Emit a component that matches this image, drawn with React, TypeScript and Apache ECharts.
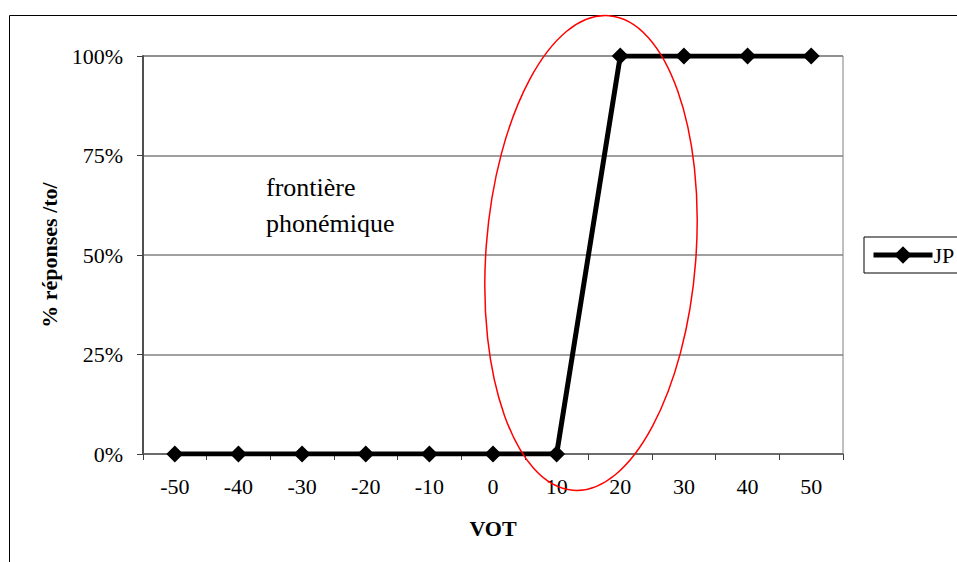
import React, { useEffect, useRef } from "react";
import * as echarts from "echarts";

const categories = ["-50", "-40", "-30", "-20", "-10", "0", "10", "20", "30", "40", "50"];
const jpValues = [0, 0, 0, 0, 0, 0, 0, 100, 100, 100, 100];
const yTicks = [0, 25, 50, 75, 100];
const seriesName = "JP";
const annotation = ["frontière", "phonémique"];
const xTitle = "VOT";
const yTitle = "% réponses /to/";

const FONT = "Liberation Serif";

export default function App() {
  const ref = useRef<HTMLDivElement>(null);
  useEffect(() => {
    if (!ref.current) return;
    const chart = echarts.init(ref.current, null, { renderer: "svg" });
    chart.setOption({
      animation: false,
      backgroundColor: "#ffffff",
      textStyle: { fontFamily: FONT },
      title: annotation.map((line, i) => ({
        text: line,
        left: 266,
        top: 174 + i * 36,
        padding: 0,
        textStyle: {
          fontFamily: FONT,
          fontSize: 26,
          fontWeight: "normal",
          color: "#000",
        },
      })),
      grid: {
        left: 143,
        top: 56,
        right: 114,
        bottom: 108,
        show: true,
        borderColor: "#808080",
        borderWidth: 1,
        backgroundColor: "transparent",
      },
      legend: {
        data: [seriesName],
        left: 864,
        top: 237,
        orient: "vertical",
        borderColor: "#000",
        borderWidth: 1,
        borderRadius: 0,
        padding: [7, 30, 7, 7],
        itemWidth: 59,
        itemHeight: 22,
        itemGap: 0,
        lineStyle: { width: 5, color: "#000" },
        textStyle: { fontFamily: FONT, fontSize: 22, color: "#000", padding: [0, 0, 0, -4] },
      },
      xAxis: {
        type: "category",
        data: categories,
        boundaryGap: true,
        name: xTitle,
        nameLocation: "middle",
        nameGap: 63,
        nameTextStyle: { fontFamily: FONT, fontSize: 22, fontWeight: "bold", color: "#000" },
        axisLine: { show: true, lineStyle: { color: "#606060", width: 1.5 } },
        axisTick: { show: true, length: 6, inside: false, alignWithLabel: false, lineStyle: { color: "#404040", width: 1 } },
        axisLabel: { fontFamily: FONT, fontSize: 22, color: "#000", margin: 21 },
        splitLine: { show: false },
      },
      yAxis: {
        type: "value",
        min: 0,
        max: 100,
        interval: 25,
        name: yTitle,
        nameLocation: "middle",
        nameGap: 83,
        nameRotate: 90,
        nameTextStyle: { fontFamily: FONT, fontSize: 22, fontWeight: "bold", color: "#000" },
        axisLine: { show: true, lineStyle: { color: "#505050", width: 2 } },
        axisTick: { show: true, length: 6, inside: false, lineStyle: { color: "#404040", width: 1 } },
        axisLabel: {
          fontFamily: FONT,
          fontSize: 22,
          color: "#000",
          margin: 20,
          formatter: (v: number) => (yTicks.includes(v) ? v + "%" : ""),
        },
        splitLine: { show: true, lineStyle: { color: "#808080", width: 1.5 } },
      },
      series: [
        {
          name: seriesName,
          type: "line",
          data: jpValues,
          symbol: "diamond",
          symbolSize: 17,
          itemStyle: { color: "#000" },
          lineStyle: { color: "#000", width: 5 },
          z: 5,
        },
      ],
      graphic: [
        {
          type: "rect",
          shape: { x: 9.5, y: 15.5, width: 1200, height: 800 },
          style: { fill: "none", stroke: "#000", lineWidth: 1 },
          silent: true,
          z: 0,
        },
        {
          type: "ellipse",
          x: 591,
          y: 253,
          rotation: -0.075,
          shape: { cx: 0, cy: 0, rx: 105, ry: 238 },
          style: { fill: "none", stroke: "#ff0000", lineWidth: 1.5 },
          silent: true,
          z: 100,
        },
      ],
    });
    return () => chart.dispose();
  }, []);
  return (
    <div
      ref={ref}
      style={{ position: "fixed", left: 0, top: 0, width: 957, height: 562 }}
    />
  );
}
